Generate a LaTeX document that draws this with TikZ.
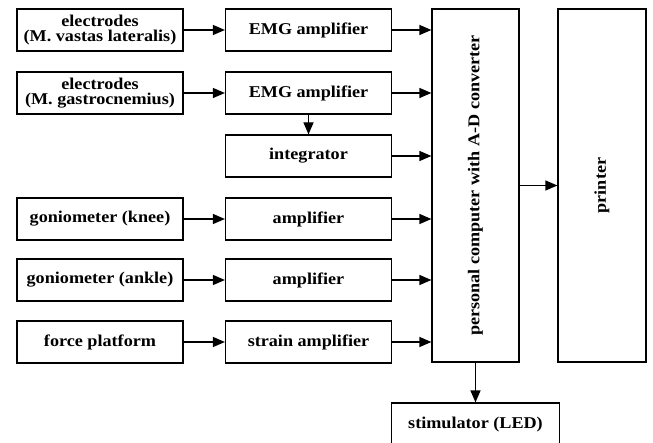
\documentclass[tikz,border=0pt]{standalone}
\usepackage{fontspec}
\setmainfont{Liberation Serif}[FakeStretch=1.1]
\usetikzlibrary{arrows.meta}

\begin{document}
\begin{tikzpicture}[x=1pt, y=-1pt, line width=1.2pt,
		box/.style={draw, minimum width=166pt, minimum height=42pt, align=center, inner sep=2pt,
			font=\bfseries\fontsize{16.5}{15}\selectfont},
		arr/.style={-{Triangle[length=12pt, width=10pt]}}]
	\clip (0,0) rectangle (653,443);
	
	% computer, printer, stimulator
	\node[box, minimum width=87pt, minimum height=353pt] (pc) at (475.5,185.5) {\rotatebox{90}{personal computer with A-D converter}};
	\node[box, minimum width=88pt, minimum height=353pt] (printer) at (602,185.5) {\rotatebox{90}{printer}};
	\node[box, minimum width=168pt, minimum height=43pt] (stim) at (475.5,424.5) {stimulator (LED)};
	\draw[arr] (pc) -- (printer);
	\draw[arr] (pc) -- (stim);
	
	% amplifiers
	\foreach \name/\y/\txt in {emga/30/EMG amplifier, emgb/93/EMG amplifier, integ/156/integrator,
			ampa/219/amplifier, ampb/280/amplifier, strain/342/strain amplifier} {
		\node[box] (\name) at (308.5,\y) {\txt};
		\draw[arr] (\name) -- (\name -| pc.west);
	}
	\draw[arr] (emgb) -- (integ);
	
	% sensors
	\foreach \name/\y/\txt/\dest in {vastas/30/electrodes\\(M. vastas lateralis)/emga,
			gastro/93/electrodes\\(M. gastrocnemius)/emgb, knee/219/goniometer (knee)/ampa,
			ankle/280/goniometer (ankle)/ampb, force/342/force platform/strain} {
		\node[box] (\name) at (100,\y) {\txt};
		\draw[arr] (\name) -- (\dest);
	}
\end{tikzpicture}
\end{document}
